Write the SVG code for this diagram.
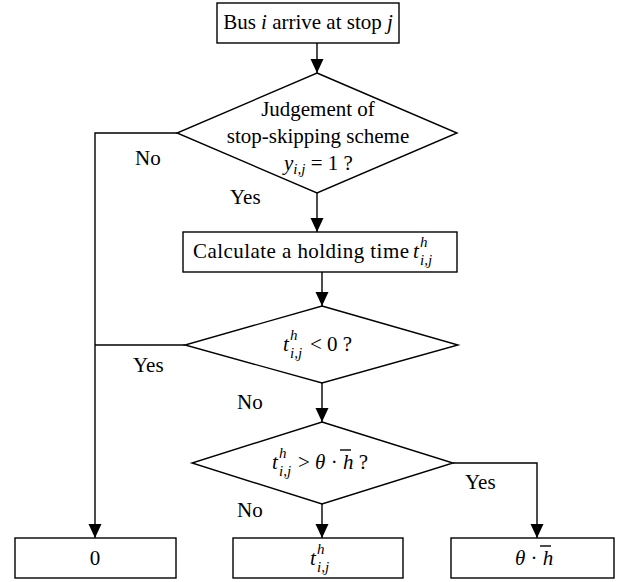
<svg xmlns="http://www.w3.org/2000/svg" width="625" height="582" viewBox="0 0 625 582">
<style>
.s{fill:#fff;stroke:#000;stroke-width:1.4}
.c{fill:none;stroke:#000;stroke-width:1.4}
text{font-family:"Liberation Serif","Times New Roman",serif;font-size:21px;fill:#000}
.m{text-anchor:middle}
.i{font-style:italic}
.sub{font-size:15px;font-style:italic}
</style>
<defs>
<marker id="a" markerUnits="userSpaceOnUse" markerWidth="14" markerHeight="14" viewBox="0 0 14 14" refX="14" refY="7" orient="auto">
<path d="M0,0.5 L14,7 L0,13.5 z" fill="#000"/>
</marker>
</defs>
<rect width="625" height="582" fill="#fff"/>
<g id="connectors">
<path class="c" d="M317,43 V73" marker-end="url(#a)"/>
<path class="c" d="M317,193 V232" marker-end="url(#a)"/>
<path class="c" d="M322,272 V306" marker-end="url(#a)"/>
<path class="c" d="M322,383 V422" marker-end="url(#a)"/>
<path class="c" d="M322,504 V538" marker-end="url(#a)"/>
<path class="c" d="M177,133 H95 V538" marker-end="url(#a)"/>
<path class="c" d="M185,345 H95"/>
<path class="c" d="M453,463 H537 V538" marker-end="url(#a)"/>
<text x="135" y="165">No</text>
<text x="230" y="204">Yes</text>
<text x="133" y="372">Yes</text>
<text x="237" y="409">No</text>
<text x="465" y="489">Yes</text>
<text x="237" y="517">No</text>
</g>
<g id="start">
<rect class="s" x="217" y="3" width="182" height="40"/>
<text class="m" x="308" y="29">Bus <tspan class="i">i</tspan> arrive at stop <tspan class="i">j</tspan></text>
</g>
<g id="judge">
<polygon class="s" points="317,73 457,133 317,193 177,133"/>
<text class="m" x="318" y="116">Judgement of</text>
<text class="m" x="318" y="143">stop-skipping scheme</text>
<text x="284" y="170"><tspan class="i">y</tspan><tspan class="sub" dy="4">i,j</tspan><tspan dy="-4"> = 1 ?</tspan></text>
</g>
<g id="calc">
<rect class="s" x="183" y="232" width="274" height="40"/>
<text x="193" y="258" textLength="216" lengthAdjust="spacing">Calculate a holding time</text>
<text class="i" x="413" y="258">t</text>
<text class="sub" x="420" y="247">h</text>
<text class="sub" x="420" y="265">i,j</text>
</g>
<g id="neg">
<polygon class="s" points="322,306 458,345 322,383 185,345"/>
<text class="i" x="283" y="351">t</text>
<text class="sub" x="290" y="340">h</text>
<text class="sub" x="290" y="358">i,j</text>
<text x="310" y="351">&lt; 0 ?</text>
</g>
<g id="cmp">
<polygon class="s" points="322,422 453,463 322,504 192,463"/>
<text class="i" x="272" y="469">t</text>
<text class="sub" x="279" y="458">h</text>
<text class="sub" x="279" y="476">i,j</text>
<text x="298" y="469">&gt; <tspan class="i">θ</tspan> · <tspan class="i">h</tspan> ?</text>
<path class="c" d="M340,450 H351" stroke-width="1.2"/>
</g>
<g id="zero">
<rect class="s" x="15" y="538" width="161" height="40"/>
<text class="m" x="95" y="565">0</text>
</g>
<g id="hold">
<rect class="s" x="233" y="538" width="170" height="40"/>
<text class="i" x="310" y="565">t</text>
<text class="sub" x="317" y="554">h</text>
<text class="sub" x="317" y="572">i,j</text>
</g>
<g id="max">
<rect class="s" x="451" y="538" width="163" height="40"/>
<text x="515" y="565"><tspan class="i">θ</tspan> · <tspan class="i">h</tspan></text>
<path class="c" d="M540,546 H551" stroke-width="1.2"/>
</g>
</svg>
